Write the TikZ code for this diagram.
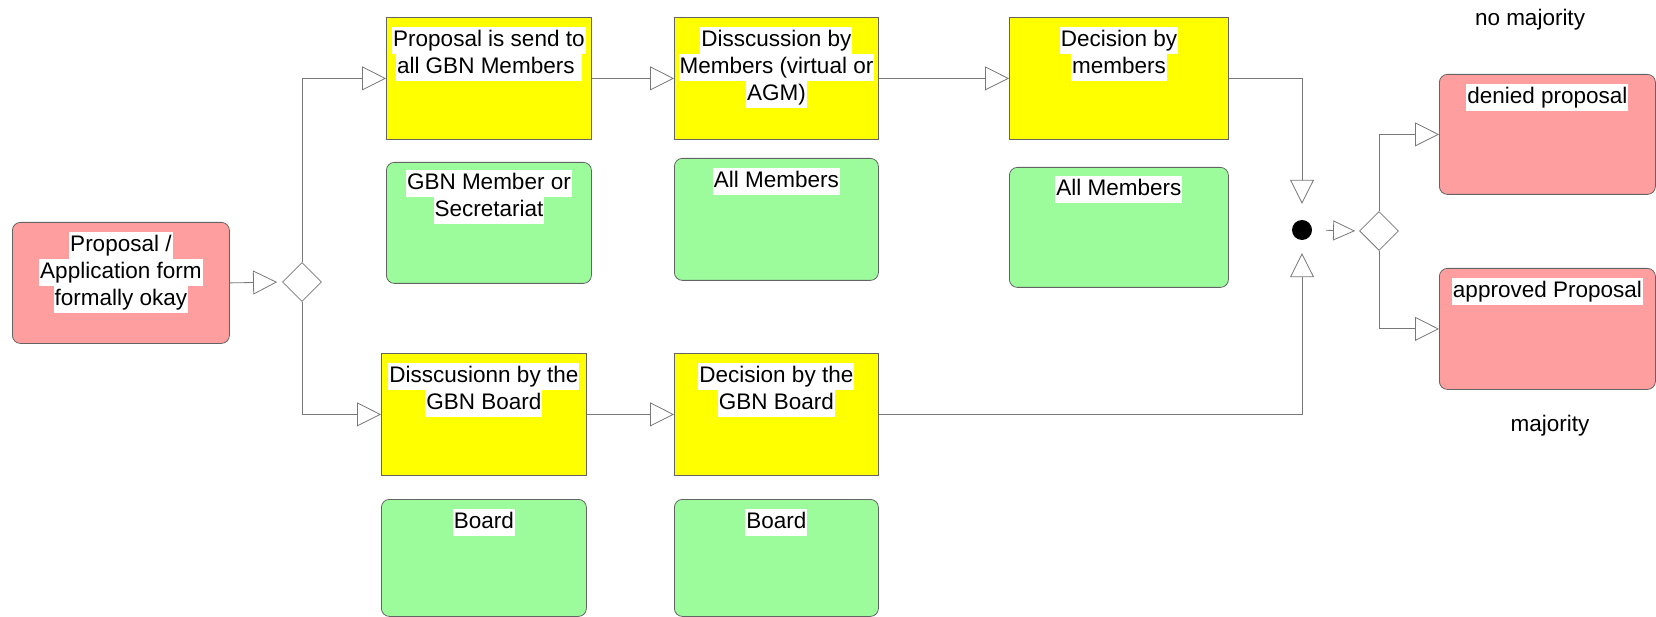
\documentclass[tikz,border=0pt]{standalone}
\usepackage{fontspec}
\setmainfont{Liberation Sans}
\usetikzlibrary{arrows.meta,shapes.geometric}
\definecolor{pinkfill}{RGB}{255,158,158}
\definecolor{greenfill}{RGB}{156,252,156}
\definecolor{yellowfill}{RGB}{255,255,0}
\definecolor{boxline}{RGB}{100,100,100}
\definecolor{connline}{RGB}{120,120,120}
\newcommand{\hl}[1]{{\setlength{\fboxsep}{1pt}\colorbox{white}{\rule[-6.5pt]{0pt}{25pt}#1}}}
\begin{document}
\begin{tikzpicture}[x=1pt,y=-1pt,
  box/.style={draw=boxline, line width=0.8pt, anchor=north west, inner sep=0pt},
  ybox/.style={box, fill=yellowfill},
  gbox/.style={box, fill=greenfill, rounded corners=8pt},
  pbox/.style={box, fill=pinkfill, rounded corners=8pt},
  txt/.style={font=\fontsize{22.5}{27}\selectfont, align=center, anchor=north, inner sep=0pt},
  conn/.style={draw=connline, line width=0.8pt, -{Triangle[open, length=24pt, width=24pt]}},
  connsmall/.style={draw=connline, line width=0.8pt, -{Triangle[open, length=22pt, width=20pt]}},
  gate/.style={diamond, draw=connline, line width=0.8pt, fill=white, minimum width=39pt, minimum height=39pt, inner sep=0pt}
]
\useasboundingbox (0,0) rectangle (1656,617);

% boxes
\node[pbox, minimum width=217pt, minimum height=121pt] (p0) at (12,222) {};
\node[ybox, minimum width=205pt, minimum height=122pt] (y1) at (386,17) {};
\node[gbox, minimum width=205pt, minimum height=121pt] (g1) at (386,162) {};
\node[ybox, minimum width=204pt, minimum height=122pt] (y2) at (674,17) {};
\node[gbox, minimum width=204pt, minimum height=122pt] (g2) at (674,158) {};
\node[ybox, minimum width=219pt, minimum height=122pt] (y3) at (1009,17) {};
\node[gbox, minimum width=219pt, minimum height=120pt] (g3) at (1009,167) {};
\node[ybox, minimum width=205pt, minimum height=122pt] (y4) at (381,353) {};
\node[gbox, minimum width=205pt, minimum height=117pt] (g4) at (381,499) {};
\node[ybox, minimum width=204pt, minimum height=122pt] (y5) at (674,353) {};
\node[gbox, minimum width=204pt, minimum height=117pt] (g5) at (674,499) {};
\node[pbox, minimum width=216pt, minimum height=120pt] (den) at (1439,74) {};
\node[pbox, minimum width=216pt, minimum height=121pt] (app) at (1439,268) {};

% gates
\node[gate] (d1) at (302,282) {};
\node[gate] (d2) at (1379,231) {};
\node[circle, fill=black, minimum size=20pt, inner sep=0pt] (dot) at (1302,230) {};

% texts
\node[txt] (tp0) at ([yshift=-9.5pt]p0.north) {\hl{Proposal /}\\\hl{Application form}\\\hl{formally okay}};
\node[txt] (ty1) at ([yshift=-10pt]y1.north) {\hl{Proposal is send to}\\\hl{all GBN Members }};
\node[txt] (tg1) at ([yshift=-8pt]g1.north) {\hl{GBN Member or}\\\hl{Secretariat}};
\node[txt] (ty2) at ([yshift=-10pt]y2.north) {\hl{Disscussion by}\\\hl{Members (virtual or}\\\hl{AGM)}};
\node[txt] (tg2) at ([yshift=-10pt]g2.north) {\hl{All Members}};
\node[txt] (ty3) at ([yshift=-10pt]y3.north) {\hl{Decision by}\\\hl{members}};
\node[txt] (tg3) at ([yshift=-9pt]g3.north) {\hl{All Members}};
\node[txt] (ty4) at ([yshift=-10pt]y4.north) {\hl{Disscusionn by the}\\\hl{GBN Board}};
\node[txt] (tg4) at ([yshift=-10pt]g4.north) {\hl{Board}};
\node[txt] (ty5) at ([yshift=-10pt]y5.north) {\hl{Decision by the}\\\hl{GBN Board}};
\node[txt] (tg5) at ([yshift=-10pt]g5.north) {\hl{Board}};
\node[txt] (tden) at ([yshift=-9.5pt]den.north) {\hl{denied proposal}};
\node[txt] (tapp) at ([yshift=-10pt]app.north) {\hl{approved Proposal}};
\node[txt, anchor=center] (nomaj) at (1530,20) {no majority};
\node[txt, anchor=center] (maj) at (1550,426) {majority};

% connectors
\draw[conn, shorten >=5pt] (p0.east) -- (d1.west);
\draw[conn] (d1.north) |- (y1.west);
\draw[conn] (d1.south) |- (y4.west);
\draw[conn] (y1.east) -- (y2.west);
\draw[conn] (y2.east) -- (y3.west);
\draw[conn] (y4.east) -- (y5.west);
\draw[conn, shorten >=16pt] (y3.east) -| (dot.north);
\draw[conn, shorten >=13pt] (y5.east) -| (dot.south);
\draw[connsmall, shorten <=14pt, shorten >=4pt] (dot.east) -- (d2.west);
\draw[conn] (d2.north) |- (den.west);
\draw[conn] (d2.south) |- (app.west);
\end{tikzpicture}
\end{document}
